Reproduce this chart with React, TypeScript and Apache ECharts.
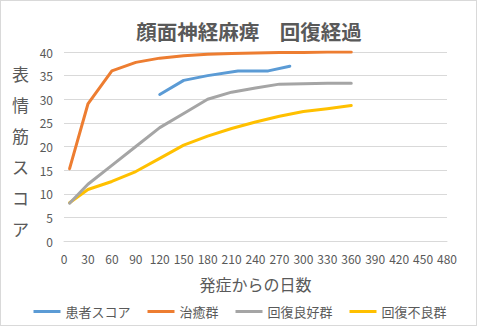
import React, { useEffect, useRef } from "react";
import * as echarts from "echarts";

const titleText = "顔面神経麻痺　回復経過";
const yAxisName = "表情筋スコア";
const xAxisName = "発症からの日数";
const seriesNames = ["患者スコア", "治癒群", "回復良好群", "回復不良群"];

const groupDays = [7, 30, 60, 90, 120, 150, 180, 210, 240, 270, 300, 330, 360];
const cureGroup = [15.3, 29, 36, 37.8, 38.7, 39.2, 39.5, 39.7, 39.8, 39.9, 39.9, 40, 40];
const goodGroup = [8, 12, 16, 20, 24, 27, 30, 31.5, 32.4, 33.2, 33.3, 33.4, 33.4];
const poorGroup = [8.1, 10.9, 12.6, 14.7, 17.5, 20.3, 22.2, 23.8, 25.2, 26.4, 27.4, 28, 28.7];
const patientDays = [120, 150, 180, 218, 256, 283];
const patientScore = [31, 34, 35, 36, 36, 37];

const colors = ["#5B9BD5", "#ED7D31", "#A5A5A5", "#FFC000"];
const FONT = "'Noto Sans CJK JP', 'Noto Sans', sans-serif";
const TXT = "#595959";

const pairs = (xs: number[], ys: number[]) => xs.map((x, i) => [x, ys[i]]);

export default function App() {
  const ref = useRef<HTMLDivElement>(null);
  useEffect(() => {
    if (!ref.current) return;
    const chart = echarts.init(ref.current, undefined, { renderer: "svg" });
    const dataSets = [
      pairs(patientDays, patientScore),
      pairs(groupDays, cureGroup),
      pairs(groupDays, goodGroup),
      pairs(groupDays, poorGroup),
    ];
    chart.setOption({
      animation: false,
      textStyle: { fontFamily: FONT },
      title: {
        text: titleText,
        left: 244,
        textAlign: "center",
        top: 16,
        textStyle: { fontSize: 20.5, fontWeight: "bold", color: TXT, fontFamily: FONT },
      },
      grid: { left: 64, right: 33, top: 52, bottom: 87, containLabel: false },
      legend: {
        data: seriesNames,
        top: 300,
        left: "center",
        icon: "rect",
        itemWidth: 27,
        itemHeight: 3,
        itemGap: 17,
        textStyle: { fontSize: 13, color: TXT, fontFamily: FONT },
      },
      xAxis: {
        type: "value",
        min: 0,
        max: 480,
        interval: 30,
        name: xAxisName,
        nameLocation: "middle",
        nameGap: 35,
        nameTextStyle: { fontSize: 16, color: TXT, fontFamily: FONT },
        axisLine: { show: true, lineStyle: { color: "#d9d9d9", width: 1 } },
        axisTick: { show: false },
        splitLine: { show: false },
        axisLabel: { fontSize: 12, color: TXT, margin: 11, fontFamily: FONT },
      },
      yAxis: {
        type: "value",
        min: 0,
        max: 40,
        interval: 5,
        axisLine: { show: false },
        axisTick: { show: false },
        splitLine: { show: true, lineStyle: { color: "#d9d9d9", width: 1 } },
        axisLabel: { fontSize: 12, color: TXT, margin: 11, fontFamily: FONT },
      },
      graphic: [
        {
          type: "text",
          left: 12,
          top: 58,
          style: {
            text: yAxisName.split("").join("\n"),
            fontSize: 17,
            lineHeight: 31,
            fill: TXT,
            fontFamily: FONT,
            align: "center",
          },
        },
      ],
      series: seriesNames.map((name, i) => ({
        name,
        type: "line",
        data: dataSets[i],
        showSymbol: false,
        symbol: "none",
        color: colors[i],
        lineStyle: { color: colors[i], width: 3, cap: "round", join: "round" },
        z: 10 - i,
      })),
    });
    return () => chart.dispose();
  }, []);
  return (
    <div style={{ position: "fixed", left: 0, top: 0, width: 480, height: 328, background: "#fff" }}>
      <div ref={ref} style={{ position: "absolute", left: 0, top: 0, width: 480, height: 328 }} />
      <div
        style={{
          position: "absolute",
          left: 0,
          top: 0,
          width: 477,
          height: 326,
          border: "1px solid #d9d9d9",
          boxSizing: "border-box",
          pointerEvents: "none",
        }}
      />
    </div>
  );
}
